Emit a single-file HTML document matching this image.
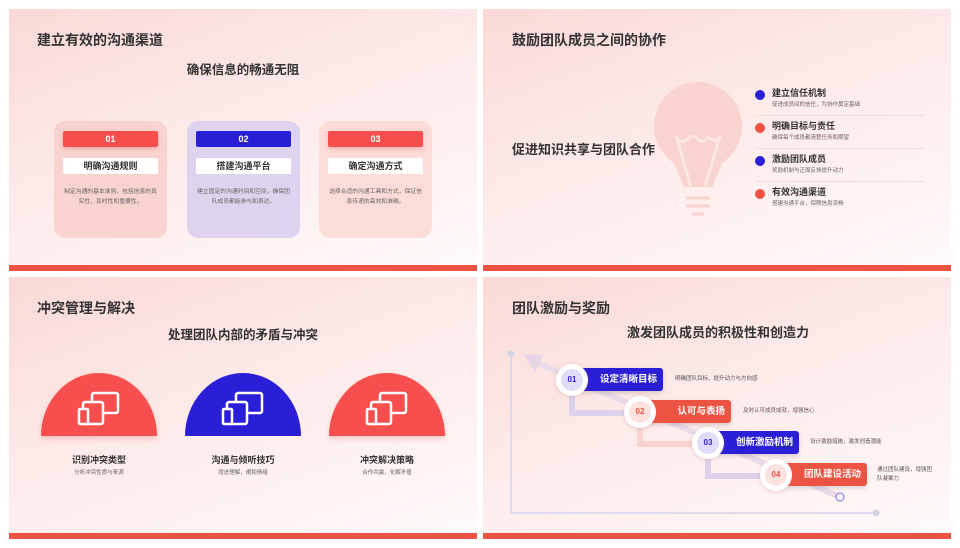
<!DOCTYPE html>
<html><head><meta charset="utf-8"><style>
*{margin:0;padding:0;box-sizing:border-box}
body{width:960px;height:548px;background:#fff;position:relative;overflow:hidden;font-family:"Liberation Sans","Noto Sans CJK SC",sans-serif;color:#333}
.s{position:absolute;width:468px;height:262px;background:linear-gradient(160deg,#fad9d6 0%,#fdeceb 50%,#fffafa 100%);overflow:hidden}
.bar{position:absolute;left:0;right:0;bottom:0;height:6px;background:#ec5343}
.a{position:absolute}
.t{font-size:14px;font-weight:bold;color:#333;white-space:nowrap}
.st{font-size:12.5px;font-weight:bold;color:#333;white-space:nowrap}
.card{position:absolute;top:112px;width:113px;height:117px;border-radius:11px}
.num{position:absolute;left:9px;top:10px;width:95px;height:16px;border-radius:2px;color:#fff;font-size:9px;font-weight:bold;text-align:center;line-height:16px;box-shadow:0 2px 4px rgba(240,80,80,.3)}
.lab{position:absolute;left:9px;top:37px;width:95px;height:16px;background:#fff;border-radius:2px;font-size:9px;font-weight:bold;text-align:center;line-height:16px}
.desc{position:absolute;left:10px;top:66px;width:93px;font-size:5.8px;color:#666;text-align:center;line-height:10px}
.half{position:absolute;top:96px;width:116px;height:63px;border-radius:58px 58px 0 0/63px 63px 0 0;box-shadow:0 3px 6px rgba(240,80,80,.25)}
.ht{position:absolute;width:116px;text-align:center;font-size:9px;font-weight:bold;top:176px}
.hd{position:absolute;width:116px;text-align:center;font-size:5.5px;color:#666;top:191px}
.li{position:absolute;left:272px}
.dot{position:absolute;left:0;width:10px;height:10px;border-radius:50%}
.lt{position:absolute;left:17px;font-size:9px;font-weight:bold;white-space:nowrap}
.ld{position:absolute;left:17px;font-size:5.5px;color:#666;white-space:nowrap}
.sep{position:absolute;left:272px;width:170px;height:1px;background:#f3dcdc}
.circ{position:absolute;width:32px;height:32px;border-radius:50%;background:#fff;box-shadow:0 1px 4px rgba(200,120,120,.3)}
.circ span{position:absolute;left:5px;top:5px;width:22px;height:22px;border-radius:50%;font-size:8px;font-weight:bold;text-align:center;line-height:22px}
.sb{position:absolute;height:23px;border-radius:3px;color:#fff;font-size:9.5px;font-weight:bold;text-align:right;padding-right:6px;line-height:23px;box-shadow:0 2px 5px rgba(0,0,0,.15)}
.sd{position:absolute;font-size:5.5px;color:#555;white-space:nowrap;line-height:9px}
</style></head><body>

<!-- slide 1 -->
<div class="s" style="left:9px;top:9px">
<div class="a t" style="left:28px;top:21px">建立有效的沟通渠道</div>
<div class="a st" style="left:0;width:468px;text-align:center;top:50px">确保信息的畅通无阻</div>
<div class="card" style="left:45px;background:#f8d3cf"><div class="num" style="background:#f74e4e">01</div><div class="lab">明确沟通规则</div><div class="desc">制定沟通的基本准则，包括信息的真实性、及时性和重要性。</div></div>
<div class="card" style="left:178px;background:#ddd3ee"><div class="num" style="background:#2a1fd6;box-shadow:none">02</div><div class="lab">搭建沟通平台</div><div class="desc">建立固定的沟通时间和空间，确保团队成员都能参与和表达。</div></div>
<div class="card" style="left:310px;background:#fbdcd8"><div class="num" style="background:#f74e4e">03</div><div class="lab">确定沟通方式</div><div class="desc">选择合适的沟通工具和方式，保证信息传递的高效和准确。</div></div>
<div class="bar"></div></div>

<!-- slide 2 -->
<div class="s" style="left:483px;top:9px">
<div class="a t" style="left:29px;top:21px">鼓励团队成员之间的协作</div>
<div class="a st" style="left:29px;top:130px;font-size:13px">促进知识共享与团队合作</div>
<svg class="a" style="left:0;top:0" width="468" height="262">
<circle cx="215" cy="117" r="44" fill="#f8d3cf"/>
<path d="M185 140 L201 178 L229 178 L245 140 Z" fill="#f8d3cf"/>
<path d="M193 128 Q199 136 205 130 Q210 124 215 130 Q220 136 225 128 Q232 134 237 128 M194 130 L208 178 M236 130 L222 178" stroke="#fbe6e4" stroke-width="3" fill="none" stroke-linecap="round"/>
<path d="M203 189 H227 M203 197 H227 M209 205 H221" stroke="#f8d3cf" stroke-width="3"/>
</svg>
<div class="li" style="top:80px"><div class="dot" style="top:1px;background:#2a1fd6"></div><div class="lt" style="top:-3px">建立信任机制</div><div class="ld" style="top:11px">促进成员间的信任，为协作奠定基础</div></div>
<div class="sep" style="top:106px"></div>
<div class="li" style="top:113px"><div class="dot" style="top:1px;background:#ec5343"></div><div class="lt" style="top:-3px">明确目标与责任</div><div class="ld" style="top:11px">确保每个成员都清楚任务和期望</div></div>
<div class="sep" style="top:139px"></div>
<div class="li" style="top:146px"><div class="dot" style="top:1px;background:#2a1fd6"></div><div class="lt" style="top:-3px">激励团队成员</div><div class="ld" style="top:11px">奖励机制与正面反馈提升动力</div></div>
<div class="sep" style="top:172px"></div>
<div class="li" style="top:179px"><div class="dot" style="top:1px;background:#ec5343"></div><div class="lt" style="top:-3px">有效沟通渠道</div><div class="ld" style="top:11px">搭建沟通平台，保障信息流畅</div></div>
<div class="bar"></div></div>

<!-- slide 3 -->
<div class="s" style="left:9px;top:277px">
<div class="a t" style="left:28px;top:21px">冲突管理与解决</div>
<div class="a st" style="left:0;width:468px;text-align:center;top:47px">处理团队内部的矛盾与冲突</div>
<div class="half" style="left:32px;background:#f74e4e"></div>
<div class="half" style="left:176px;background:#2a1fd6;box-shadow:none"></div>
<div class="half" style="left:320px;background:#f74e4e"></div>
<svg class="a" style="left:0;top:0" width="468" height="262">
<g fill="none" stroke="#fff" stroke-width="2.5">
<g transform="translate(0,0)"><rect x="83" y="116" width="26" height="20" rx="2"/><rect x="74" y="125" width="20" height="22" rx="2" fill="#f74e4e"/><rect x="70" y="132" width="9" height="15" rx="1" fill="#f74e4e"/></g>
<g transform="translate(144,0)"><rect x="83" y="116" width="26" height="20" rx="2"/><rect x="74" y="125" width="20" height="22" rx="2" fill="#2a1fd6"/><rect x="70" y="132" width="9" height="15" rx="1" fill="#2a1fd6"/></g>
<g transform="translate(288,0)"><rect x="83" y="116" width="26" height="20" rx="2"/><rect x="74" y="125" width="20" height="22" rx="2" fill="#f74e4e"/><rect x="70" y="132" width="9" height="15" rx="1" fill="#f74e4e"/></g>
</g>
</svg>
<div class="ht" style="left:32px">识别冲突类型</div><div class="hd" style="left:32px">分析冲突性质与来源</div>
<div class="ht" style="left:176px">沟通与倾听技巧</div><div class="hd" style="left:176px">增进理解，缓和情绪</div>
<div class="ht" style="left:320px">冲突解决策略</div><div class="hd" style="left:320px">合作共赢，化解矛盾</div>
<div class="bar"></div></div>

<!-- slide 4 -->
<div class="s" style="left:483px;top:277px">
<div class="a t" style="left:29px;top:21px">团队激励与奖励</div>
<div class="a st" style="left:0;width:470px;text-align:center;top:45px;font-size:13px">激发团队成员的积极性和创造力</div>
<svg class="a" style="left:0;top:0" width="468" height="262">
<path d="M28 77 V236 H393" stroke="#d6d2f0" stroke-width="1.5" fill="none"/>
<circle cx="28" cy="77" r="3.5" fill="#d4d4e4"/><circle cx="393" cy="236" r="3.5" fill="#d4d4e4"/>
<path d="M357 220 L50 84" stroke="#e9dbe9" stroke-width="6" fill="none"/>
<path d="M40 77 L60 78 L52 95 Z" fill="#e4d4e6"/>
<path d="M89 112 V136 H150" stroke="#dcd2ea" stroke-width="6" fill="none"/>
<path d="M157 143 V167 H218" stroke="#f8d3cf" stroke-width="6" fill="none"/>
<path d="M225 175 V199 H286" stroke="#dcd2ea" stroke-width="6" fill="none"/>
<circle cx="357" cy="220" r="4" fill="#fff" stroke="#6b63e6" stroke-width="1"/>
</svg>
<div class="sb" style="left:97px;top:91px;width:83px;background:#2a1fd6">设定清晰目标</div>
<div class="circ" style="left:73px;top:87px"><span style="background:#e1dcf7;color:#2a1fd6">01</span></div>
<div class="sd" style="left:192px;top:98px">明确团队目标，提升动力与方向感</div>
<div class="sb" style="left:165px;top:123px;width:83px;background:#ec5343">认可与表扬</div>
<div class="circ" style="left:141px;top:119px"><span style="background:#fde2df;color:#ec5343">02</span></div>
<div class="sd" style="left:260px;top:130px">及时认可成员成就，增强信心</div>
<div class="sb" style="left:233px;top:154px;width:83px;background:#2a1fd6">创新激励机制</div>
<div class="circ" style="left:209px;top:150px"><span style="background:#e1dcf7;color:#2a1fd6">03</span></div>
<div class="sd" style="left:327px;top:161px">设计激励措施，激发创造潜能</div>
<div class="sb" style="left:301px;top:186px;width:83px;background:#ec5343">团队建设活动</div>
<div class="circ" style="left:277px;top:182px"><span style="background:#fde2df;color:#ec5343">04</span></div>
<div class="sd" style="left:394px;top:189px;width:55px;white-space:normal">通过团队建设，增强团队凝聚力</div>
<div class="bar"></div></div>
</body></html>
